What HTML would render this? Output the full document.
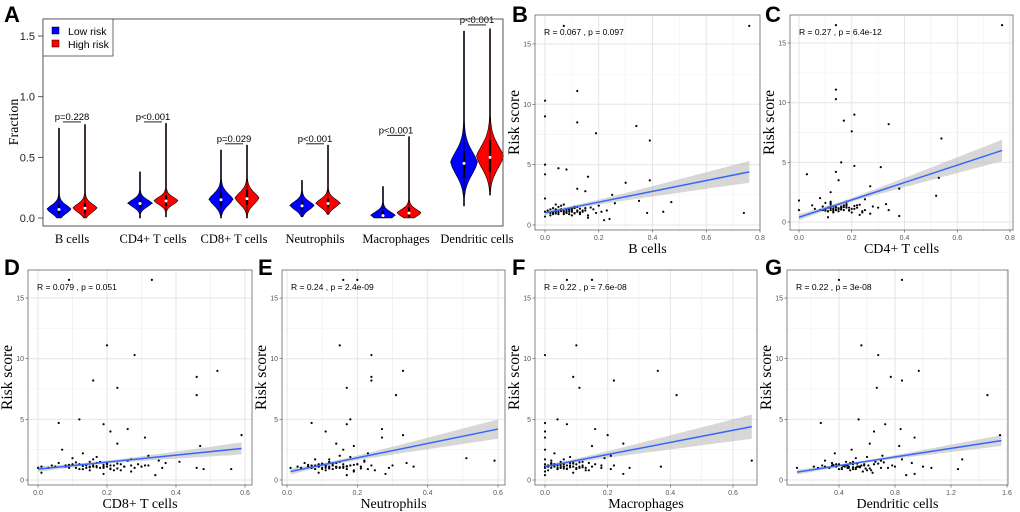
<!DOCTYPE html>
<html><head><meta charset="utf-8"><style>
html,body{margin:0;padding:0;background:#fff;}
svg{display:block;}
.sans{font-family:"Liberation Sans",sans-serif;}
.serif{font-family:"Liberation Serif",serif;}
</style></head><body>
<svg id="fig" width="1020" height="512" viewBox="0 0 1020 512" xmlns="http://www.w3.org/2000/svg">
<rect width="1020" height="512" fill="#fff"/>
</svg>
<script>
// ---------- Panel A data ----------
const cellTypes = ["B cells","CD4+ T cells","CD8+ T cells","Neutrophils","Macrophages","Dendritic cells"];
const pLabels = ["p=0.228","p<0.001","p=0.029","p<0.001","p<0.001","p<0.001"];
const pLevels = [0.80,0.80,0.62,0.62,0.69,1.60];
const lowMin = [0.0,0.0,0.0,0.01,0.0,0.10];
const lowMax = [0.74,0.38,0.56,0.31,0.26,1.54];
const lowMode = [0.07,0.12,0.15,0.10,0.02,0.45];
const lowMedian = [0.07,0.12,0.15,0.10,0.02,0.45];
const lowQ1 = [0.04,0.09,0.10,0.07,0.0,0.33];
const lowQ3 = [0.11,0.15,0.21,0.13,0.06,0.55];
const highMin = [0.0,0.01,0.0,0.03,0.0,0.19];
const highMax = [0.77,0.78,0.60,0.60,0.67,1.56];
const highMode = [0.08,0.14,0.16,0.12,0.04,0.50];
const highMedian = [0.08,0.14,0.16,0.12,0.04,0.50];
const highQ1 = [0.04,0.10,0.11,0.09,0.01,0.38];
const highQ3 = [0.12,0.19,0.23,0.16,0.09,0.64];
const spread = [0.04,0.035,0.055,0.04,0.035,0.11];
const yTicksA = [0.0,0.5,1.0,1.5];

// ---------- Scatter data ----------
const riskScore = [16.5,16.5,11.1,10.3,9.0,8.5,8.2,7.6,7.0,5.0,4.7,4.6,4.2,4.0,3.7,3.5,3.0,2.8,2.5,2.2,
2.0,1.9,1.8,1.7,1.6,1.5,1.5,1.4,1.4,1.3,1.3,1.3,1.2,1.2,1.2,1.2,1.1,1.1,1.1,1.1,
1.1,1.0,1.0,1.0,1.0,1.0,0.9,0.9,0.9,0.8,0.8,0.7,0.6,0.5,0.4,1.15,1.05,1.25,0.95,1.35,
1.0,1.1,1.2,1.3,0.9,1.0,1.1,1.2,1.4,1.5,1.0,1.1,1.2,0.8,1.3,1.6,1.0,1.1,1.2,0.9,1.05,1.15,1.25,0.95,1.35,1.45,1.0,1.1,1.2,1.7];
const bCells = [0.76,0.07,0.12,0.0,0.0,0.12,0.34,0.19,0.39,0.0,0.05,0.08,0.0,0.16,0.39,0.30,0.12,0.15,0.25,0.0,
0.35,0.47,0.26,0.07,0.2,0.05,0.11,0.03,0.15,0.02,0.09,0.18,0.01,0.06,0.1,0.14,0.0,0.04,0.08,0.12,
0.44,0.03,0.07,0.11,0.38,0.74,0.05,0.09,0.13,0.02,0.1,0.0,0.16,0.24,0.22,0.06,0.13,0.08,0.04,0.1,
.02,.03,.05,.06,.07,.08,.09,.1,.11,.12,.13,.14,.15,.16,.04,.06,.08,.1,.12,.03,.05,.07,.09,.11,.13,.17,.19,.21,.23,.04];
const cd4Cells = [0.77,0.14,0.14,0.14,0.21,0.17,0.34,0.2,0.54,0.16,0.21,0.31,0.14,0.03,0.53,0.15,0.27,0.38,0.12,0.52,
0.08,0.25,0.0,0.18,0.1,0.33,0.12,0.22,0.05,0.13,0.16,0.28,0.11,0.14,0.19,0.3,0.06,0.1,0.13,0.15,
0.21,0.0,0.09,0.12,0.17,0.34,0.11,0.24,0.15,0.2,0.13,0.27,0.23,0.38,0.11,0.12,0.16,0.14,0.1,0.18,
.08,.1,.11,.12,.13,.14,.15,.16,.17,.18,.19,.2,.22,.24,.09,.12,.14,.16,.18,.11,.13,.15,.17,.19,.21,.23,.25,.1,.14,.12];
const cd8Cells = [0.33,0.09,0.2,0.28,0.52,0.46,0.16,0.23,0.46,0.12,0.06,0.19,0.26,0.21,0.59,0.31,0.23,0.47,0.07,0.13,
0.32,0.17,0.1,0.27,0.35,0.41,0.15,0.37,0.06,0.12,0.2,0.29,0.04,0.14,0.22,0.31,0.01,0.08,0.16,0.19,
0.25,0.0,0.11,0.18,0.36,0.46,0.21,0.48,0.56,0.15,0.24,0.27,0.01,0.19,0.34,0.13,0.17,0.09,0.23,0.2,
.03,.05,.08,.1,.12,.14,.15,.16,.17,.18,.19,.2,.21,.22,.24,.26,.28,.3,.32,.13,.15,.17,.19,.21,.23,.11,.09,.25,.27,.16];
const neutrophils = [0.16,0.2,0.15,0.24,0.33,0.24,0.24,0.17,0.31,0.18,0.07,0.17,0.27,0.11,0.33,0.27,0.14,0.19,0.16,0.23,
0.15,0.18,0.51,0.08,0.59,0.22,0.12,0.34,0.05,0.1,0.16,0.2,0.07,0.13,0.18,0.3,0.03,0.09,0.14,0.36,
0.21,0.01,0.1,0.15,0.29,0.12,0.08,0.23,0.17,0.11,0.25,0.19,0.09,0.28,0.17,0.11,0.14,0.06,0.12,0.13,
.04,.06,.08,.09,.1,.11,.12,.13,.14,.15,.16,.17,.18,.19,.2,.22,.07,.09,.11,.13,.15,.17,.19,.21,.1,.12,.14,.16,.24,.12];
const macrophages = [0.15,0.07,0.1,0.0,0.36,0.09,0.22,0.11,0.42,0.04,0.0,0.07,0.16,0.0,0.2,0.0,0.25,0.15,0.0,0.03,
0.21,0.08,0.19,0.0,0.66,0.05,0.12,0.02,0.14,0.0,0.06,0.1,0.01,0.04,0.08,0.22,0.0,0.03,0.06,0.09,
0.37,0.02,0.05,0.11,0.27,0.18,0.04,0.07,0.21,0.01,0.13,0.0,0.09,0.25,0.0,0.05,0.08,0.03,0.06,0.02,
0,.01,.02,.03,.04,.05,.06,.07,.08,.09,.1,.11,.12,.14,.16,.02,.04,.06,.08,.1,.12,.03,.05,.07,.09,.11,.13,.15,.18,.06];
const dendritic = [0.4,0.85,0.56,0.68,0.97,0.77,0.85,0.67,1.46,0.54,0.27,0.73,0.84,0.65,1.55,0.94,0.62,0.83,0.49,0.37,
0.71,0.6,0.52,1.28,0.3,0.45,0.66,0.92,0.35,0.4,0.5,0.58,0.28,0.44,0.61,0.78,0.22,0.38,0.47,0.55,
1.0,0.1,0.33,0.46,0.7,1.06,0.42,0.52,1.25,0.48,0.63,0.57,0.64,0.94,0.88,0.43,0.5,0.36,0.59,0.53,
.25,.3,.35,.38,.4,.42,.44,.46,.48,.5,.52,.54,.56,.6,.65,.7,.75,.8,.45,.5,.55,.35,.4,.62,.68,.72,.47,.53,.58,.85];
const statLabels = ["R = 0.067 , p = 0.097","R = 0.27 , p = 6.4e-12","R = 0.079 , p = 0.051","R = 0.24 , p = 2.4e-09","R = 0.22 , p = 7.6e-08","R = 0.22 , p = 3e-08"];
const fitX0 = [0.0,0.0,0.0,0.01,0.0,0.1];
const fitX1 = [0.76,0.77,0.59,0.6,0.66,1.56];
const fitY0 = [1.0,0.4,0.9,0.7,1.1,0.65];
const fitY1 = [4.4,6.0,2.6,4.2,4.4,3.25];
const fitXMean = [0.1,0.15,0.17,0.13,0.06,0.52];
const bandMin = [0.15,0.15,0.12,0.15,0.15,0.1];
const bandEnd = [0.9,0.9,0.5,0.8,1.0,0.45];
const xTickLists = [[0,0.2,0.4,0.6,0.8],[0,0.2,0.4,0.6,0.8],[0,0.2,0.4,0.6],[0,0.2,0.4,0.6],[0,0.2,0.4,0.6],[0.4,0.8,1.2,1.6]];
const yTicksS = [0,5,10,15];

const NS="http://www.w3.org/2000/svg";
const svg=document.getElementById('fig');
function mk(tag,attrs,parent){const e=document.createElementNS(NS,tag);for(const k in attrs)e.setAttribute(k,attrs[k]);(parent||svg).appendChild(e);return e;}
function txt(s,attrs,parent){const e=mk('text',attrs,parent);e.textContent=s;return e;}

// ---------- Panel A ----------
const gA=mk('g',{});


const A={l:43,r:503,t:19,b:226};
const ayA=v=>218-v*121.3;
const groupX=i=>72+i*81;
let lA=txt('A',{x:4,y:22,'font-size':22,'font-weight':'bold',class:'sans'},gA);


yTicksA.forEach(v=>{
  mk('line',{x1:A.l-5,x2:A.l,y1:ayA(v),y2:ayA(v),stroke:'#333','stroke-width':0.8},gA);
  const t=txt(v.toFixed(1),{x:A.l-8,y:ayA(v)+4,'text-anchor':'end','font-size':11,class:'sans',fill:'#222'},gA);
  
  
});
const fr=txt('Fraction',{transform:'translate(18,122) rotate(-90)','text-anchor':'middle','font-size':14,class:'serif'},gA);


function violin(cx,mn,mx,mode,sd,med,q1,q3,w,fill,name){
  const pts=[],N=120;
  for(let k=0;k<=N;k++){
    const v=mn+(mx-mn)*k/N;
    const z=Math.abs(v-mode)/sd;
    let hw=w*Math.exp(-0.5*z*z*0.8-0.25*z);
    if(v>mode) hw+=0.9*Math.exp(-(v-mode)/(sd*4));
    hw=Math.max(hw,0.5);
    pts.push([v,hw]);
  }
  let d='M'+cx+','+ayA(mn);
  pts.forEach(p=>d+=' L'+(cx+p[1]).toFixed(1)+','+ayA(p[0]).toFixed(1));
  for(let k=pts.length-1;k>=0;k--)d+=' L'+(cx-pts[k][1]).toFixed(1)+','+ayA(pts[k][0]).toFixed(1);
  d+='Z';
  const p=mk('path',{d:d,fill:fill,stroke:'#000','stroke-width':0.6},gA);
  
  
  mk('line',{x1:cx,x2:cx,y1:ayA(mn),y2:ayA(mx),stroke:'#000','stroke-width':0.7},gA);
  mk('rect',{x:cx-1.1,y:ayA(q3),width:2.2,height:ayA(q1)-ayA(q3),fill:'#000'},gA);
  mk('circle',{cx:cx,cy:ayA(med),r:1.5,fill:'#fff'},gA);
}
cellTypes.forEach((c,i)=>{
  const gx=groupX(i),bx=gx-13,rx=gx+13;
  const w=i===5?13:11.5;
  violin(bx,lowMin[i],lowMax[i],lowMode[i],spread[i],lowMedian[i],lowQ1[i],lowQ3[i],w,'#0000ff','violin-low-'+i);
  violin(rx,highMin[i],highMax[i],highMode[i],spread[i],highMedian[i],highQ1[i],highQ3[i],w,'#ff0000','violin-high-'+i);
  const py=ayA(pLevels[i]);
  const pt=txt(pLabels[i],{x:gx,y:py-1,'text-anchor':'middle','font-size':9.5,class:'sans'},gA);
  
  
  mk('line',{x1:bx+4,x2:rx-4,y1:py+1,y2:py+1,stroke:'#000','stroke-width':0.8},gA);
  const ct=txt(c,{x:gx,y:243,'text-anchor':'middle','font-size':12.5,class:'serif'},gA);
  
  
});
mk('rect',{x:A.l,y:A.t,width:A.r-A.l,height:A.b-A.t,fill:'none',stroke:'#555','stroke-width':1},gA);
const leg=mk('g',{},gA);


mk('rect',{x:A.l,y:A.t,width:70,height:37,fill:'#fff',stroke:'#444','stroke-width':0.8},leg);
mk('rect',{x:52,y:27,width:7,height:7,fill:'#0000ff',stroke:'#000','stroke-width':0.5},leg);
mk('rect',{x:52,y:40,width:7,height:7,fill:'#ff0000',stroke:'#000','stroke-width':0.5},leg);
let le1=txt('Low risk',{x:68,y:35,'font-size':10.5,class:'sans'},leg);


let le2=txt('High risk',{x:68,y:48,'font-size':10.5,class:'sans'},leg);



// ---------- Scatter panels ----------
const panels=[
 {letter:'B',lx:512,ly:22,l:535,r:760,t:15,b:230,x0:545,xs:268.75,y0:225,ys:12.07,xd:bCells,title:'B cells'},
 {letter:'C',lx:765,ly:22,l:790,r:1013,t:15,b:230,x0:799,xs:263.75,y0:222,ys:11.93,xd:cd4Cells,title:'CD4+ T cells'},
 {letter:'D',lx:4,ly:275,l:28,r:252,t:270,b:485,x0:38,xs:345,y0:480,ys:12.13,xd:cd8Cells,title:'CD8+ T cells'},
 {letter:'E',lx:258,ly:275,l:282,r:505,t:270,b:485,x0:287,xs:351.7,y0:480,ys:12.13,xd:neutrophils,title:'Neutrophils'},
 {letter:'F',lx:512,ly:275,l:535,r:757,t:270,b:485,x0:545,xs:313.3,y0:480,ys:12.13,xd:macrophages,title:'Macrophages'},
 {letter:'G',lx:765,ly:275,l:787,r:1008,t:270,b:485,x0:783,xs:140,y0:480,ys:12.13,xd:dendritic,title:'Dendritic cells'}
];
panels.forEach((P,pi)=>{
  const g=mk('g',{});
  
  
  const sx=v=>P.x0+v*P.xs, sy=v=>P.y0-v*P.ys;
  mk('rect',{x:P.l,y:P.t,width:P.r-P.l,height:P.b-P.t,fill:'#fff'},g);
  const xt=xTickLists[pi];
  for(let k=0;k<xt.length;k++){
    const step=xt[1]-xt[0];
    [xt[k]-step/2,xt[k]+step/2].forEach(m=>{const X=sx(m);if(X>P.l&&X<P.r)mk('line',{x1:X,x2:X,y1:P.t,y2:P.b,stroke:'#f2f2f2','stroke-width':0.6},g);});
  }
  [2.5,7.5,12.5].forEach(m=>mk('line',{x1:P.l,x2:P.r,y1:sy(m),y2:sy(m),stroke:'#f2f2f2','stroke-width':0.6},g));
  xt.forEach(v=>{
    const X=sx(v);
    mk('line',{x1:X,x2:X,y1:P.t,y2:P.b,stroke:'#e6e6e6','stroke-width':1},g);
    mk('line',{x1:X,x2:X,y1:P.b,y2:P.b+2.5,stroke:'#444','stroke-width':0.6},g);
    const t=txt(String(v===0?'0.0':v),{x:X,y:P.b+10,'text-anchor':'middle','font-size':7,class:'sans',fill:'#555'},g);
    
    
  });
  yTicksS.forEach(v=>{
    const Y=sy(v);
    mk('line',{x1:P.l,x2:P.r,y1:Y,y2:Y,stroke:'#e6e6e6','stroke-width':1},g);
    mk('line',{x1:P.l-2.5,x2:P.l,y1:Y,y2:Y,stroke:'#444','stroke-width':0.6},g);
    const t=txt(String(v),{x:P.l-4,y:Y+2.5,'text-anchor':'end','font-size':7,class:'sans',fill:'#555'},g);
    
    
  });
  const n=40,up=[],dn=[];
  for(let k=0;k<=n;k++){
    const x=fitX0[pi]+(fitX1[pi]-fitX0[pi])*k/n;
    const y=fitY0[pi]+(fitY1[pi]-fitY0[pi])*(x-fitX0[pi])/(fitX1[pi]-fitX0[pi]);
    const far=Math.max(Math.abs(fitX1[pi]-fitXMean[pi]),Math.abs(fitX0[pi]-fitXMean[pi]));
    const r=(x-fitXMean[pi])/far;
    const hw=Math.sqrt(bandMin[pi]*bandMin[pi]+(bandEnd[pi]*bandEnd[pi]-bandMin[pi]*bandMin[pi])*r*r);
    up.push(sx(x).toFixed(1)+','+sy(y+hw).toFixed(1));
    dn.unshift(sx(x).toFixed(1)+','+sy(y-hw).toFixed(1));
  }
  const band=mk('polygon',{points:up.concat(dn).join(' '),fill:'#bdbdbd','fill-opacity':0.6},g);
  
  
  const xs=P.xd, m=Math.min(xs.length,riskScore.length);
  for(let k=0;k<m;k++){
    const c=mk('circle',{cx:sx(xs[k]),cy:sy(riskScore[k]),r:1.1,fill:'#000'},g);
    
    
  }
  const ln=mk('line',{x1:sx(fitX0[pi]),y1:sy(fitY0[pi]),x2:sx(fitX1[pi]),y2:sy(fitY1[pi]),stroke:'#3366ff','stroke-width':1.5},g);
  
  
  mk('rect',{x:P.l,y:P.t,width:P.r-P.l,height:P.b-P.t,fill:'none',stroke:'#666','stroke-width':0.8},g);
  const st=txt(statLabels[pi],{x:P.l+9,y:P.t+20,'font-size':8.5,class:'sans'},g);
  
  
  const yt=txt('Risk score',{transform:'translate('+(P.l-16)+','+((P.t+P.b)/2)+') rotate(-90)','text-anchor':'middle','font-size':15.5,class:'serif'},g);
  
  
  const xtt=txt(P.title,{x:(P.l+P.r)/2,y:P.b+23,'text-anchor':'middle','font-size':14,class:'serif'},g);
  
  
  const lt=txt(P.letter,{x:P.lx,y:P.ly,'font-size':22,'font-weight':'bold',class:'sans'},g);
  
  
});
</script>
</body></html>
